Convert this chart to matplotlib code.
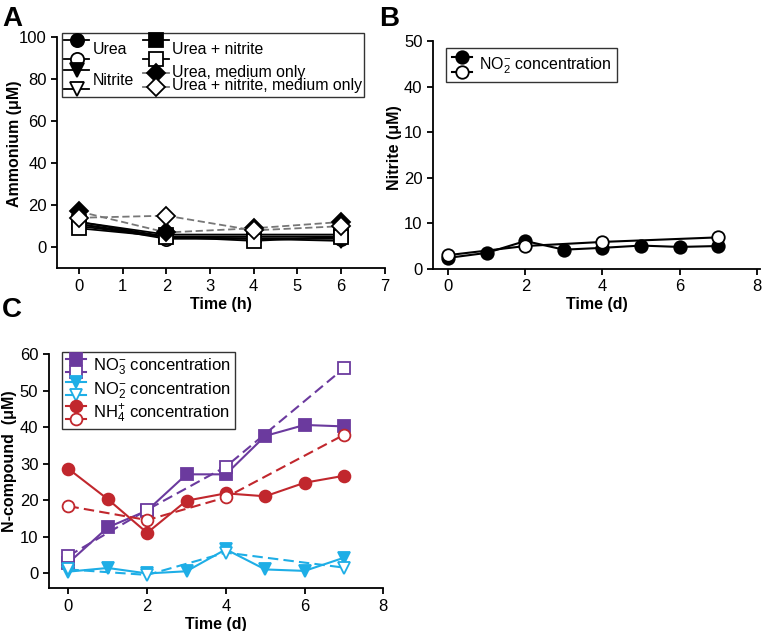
import numpy as np
import matplotlib
matplotlib.use("Agg")
import matplotlib.pyplot as plt
from matplotlib.lines import Line2D
from matplotlib.legend_handler import HandlerBase

plt.rcParams['font.family'] = ['Liberation Sans', 'DejaVu Sans']
plt.rcParams['mathtext.default'] = 'regular'

# ---- panel A data (time in h) ----
time_a = [0, 2, 4, 6]
urea_filled = [12, 5, 5, 5]
urea_open = [11, 4, 4, 4]
nitrite_filled = [11, 5, 4, 3]
nitrite_open = [10, 5, 5, 5]
ureanit_filled = [12, 6, 6, 6]
ureanit_open = [9, 5, 3, 5]
medium_filled = [17, 7, 9, 12]
medium_open = [14, 15, 8, 10]

# ---- panel B data (time in d) ----
time_b_filled = [0, 1, 2, 3, 4, 5, 6, 7]
nitrite_b_filled = [2.4, 3.5, 6.1, 4.2, 4.6, 5.1, 4.8, 5.0]
time_b_open = [0, 2, 4, 7]
nitrite_b_open = [3.0, 5.0, 5.9, 6.9]
b_yticks = [0, 10, 20, 30, 40, 50]
b_yticklabels = ['0', '10', '20', '10', '40', '50']

# ---- panel C data (time in d) ----
time_c_filled = [0, 1, 2, 3, 4, 5, 6, 7]
time_c_open = [0, 2, 4, 7]
no3_filled = [2.9, 12.6, 17.2, 27.1, 27.1, 37.6, 40.6, 40.2]
no3_open = [4.8, 17.4, 29.2, 56.1]
no2_filled = [0.5, 1.5, 0.0, 0.6, 6.6, 1.1, 0.7, 4.3]
no2_open = [1.1, -0.4, 5.7, 1.6]
nh4_filled = [28.6, 20.3, 11.1, 19.9, 21.9, 21.1, 24.8, 26.7]
nh4_open = [18.4, 14.6, 20.8, 37.9]

purple = '#6b3a9e'
cyan = '#1eaee6'
red = '#c1272d'


# legend handler: two line/marker samples stacked on top of each other
class StackedHandler(HandlerBase):
    def __init__(self, gap=0.52, **kwargs):
        HandlerBase.__init__(self, **kwargs)
        self.gap = gap

    def create_artists(self, legend, orig_handle, xdescent, ydescent,
                       width, height, fontsize, trans):
        artists = []
        yc = height / 2 - ydescent
        d = orig_handle[0].get_markersize() * self.gap
        for h, yy in zip(orig_handle, [yc + d, yc - d]):
            ln = Line2D([-xdescent, -xdescent + width], [yy, yy],
                        color=h.get_color(), lw=h.get_linewidth(),
                        linestyle='-')
            mk = Line2D([-xdescent + width / 2], [yy],
                        marker=h.get_marker(), markersize=h.get_markersize(),
                        markerfacecolor=h.get_markerfacecolor(),
                        markeredgecolor=h.get_markeredgecolor(),
                        markeredgewidth=h.get_markeredgewidth(),
                        linestyle='none')
            ln.set_transform(trans)
            mk.set_transform(trans)
            artists += [ln, mk]
        return artists


def style_axes(ax):
    ax.spines['top'].set_visible(False)
    ax.spines['right'].set_visible(False)
    ax.spines['left'].set_linewidth(1.3)
    ax.spines['bottom'].set_linewidth(1.3)
    ax.tick_params(direction='out', width=1.3, length=4, labelsize=12)


fig = plt.figure(figsize=(7.62, 6.31), dpi=100)

#-----------------------------------------
# panel A
axA = fig.add_axes([0.075, 0.575, 0.43, 0.366])
ms = 9.5
kw = dict(lw=1.3, color='black', mec='black', mew=1.3, ms=ms, zorder=3)
hU1, = axA.plot(time_a, urea_filled, marker='o', mfc='black', **kw)
hU2, = axA.plot(time_a, urea_open, marker='o', mfc='white', **kw)
hN1, = axA.plot(time_a, nitrite_filled, marker='v', mfc='black', **kw)
hN2, = axA.plot(time_a, nitrite_open, marker='v', mfc='white', **kw)
hUN1, = axA.plot(time_a, ureanit_filled, marker='s', mfc='black', **kw)
hUN2, = axA.plot(time_a, ureanit_open, marker='s', mfc='white', **kw)
kwd = dict(lw=1.3, color='#777777', linestyle=(0, (4, 2)), mec='black',
           mew=1.3, ms=ms, zorder=4)
hM1, = axA.plot(time_a, medium_filled, marker='D', mfc='black', **kwd)
hM2, = axA.plot(time_a, medium_open, marker='D', mfc='white', **kwd)
axA.set_xlim(-0.5, 7)
axA.set_ylim(-10, 100)
axA.set_xticks(range(0, 8))
axA.set_yticks(range(0, 101, 20))
axA.set_xlabel('Time (h)', fontsize=11.5, fontweight='bold')
axA.set_ylabel('Ammonium (μM)', fontsize=11.5, fontweight='bold')
axA.yaxis.set_label_coords(-0.107, 0.54)
axA.xaxis.set_label_coords(0.5, -0.125)
style_axes(axA)
legA = axA.legend([(hU1, hU2), (hN1, hN2), (hUN1, hUN2), (hM1, hM2)],
                  ['Urea', 'Nitrite', 'Urea + nitrite',
                   'Urea, medium only\nUrea + nitrite, medium only'],
                  handler_map={(hU1, hU2): StackedHandler(0.7),
                               (hN1, hN2): StackedHandler(0.7),
                               (hUN1, hUN2): StackedHandler(0.7),
                               (hM1, hM2): StackedHandler(0.5)},
                  ncol=2, loc='upper left', bbox_to_anchor=(0.015, 1.02),
                  fontsize=11.4, handlelength=1.6, handleheight=2.5,
                  handletextpad=0.2, columnspacing=0.6, labelspacing=0.05,
                  borderpad=0.12, frameon=True, fancybox=False,
                  borderaxespad=0)
legA.get_frame().set_edgecolor('black')
legA.get_frame().set_linewidth(1.0)
for t in legA.get_texts():
    t.set_linespacing(0.82)

#-----------------------------------------
# panel B
axB = fig.add_axes([0.568, 0.574, 0.43, 0.361])
kwb = dict(lw=1.5, color='black', mec='black', mew=1.3, ms=9, zorder=3)
hB1, = axB.plot(time_b_filled, nitrite_b_filled, marker='o', mfc='black', **kwb)
hB2, = axB.plot(time_b_open, nitrite_b_open, marker='o', mfc='white', **kwb)
axB.set_xlim(-0.4, 8.1)
axB.set_ylim(0, 50)
axB.set_xticks(range(0, 9, 2))
axB.set_yticks(b_yticks)
axB.set_yticklabels(b_yticklabels)
axB.set_xlabel('Time (d)', fontsize=11.5, fontweight='bold')
axB.set_ylabel('Nitrite (μM)', fontsize=11.5, fontweight='bold')
axB.yaxis.set_label_coords(-0.095, 0.53)
axB.xaxis.set_label_coords(0.5, -0.125)
style_axes(axB)
legB = axB.legend([(hB1, hB2)], ['NO$_2^{-}$ concentration'],
                  handler_map={(hB1, hB2): StackedHandler(0.6)},
                  loc='upper left', bbox_to_anchor=(0.04, 0.97),
                  fontsize=11.5, handlelength=1.3, handleheight=1.7,
                  handletextpad=0.4, borderpad=0.35, fancybox=False,
                  borderaxespad=0)
legB.get_frame().set_edgecolor('black')
legB.get_frame().set_linewidth(1.0)

#-----------------------------------------
# panel C
axC = fig.add_axes([0.064, 0.068, 0.439, 0.371])
kwc = dict(lw=1.5, mew=1.3, ms=8.5, zorder=3)
h3a, = axC.plot(time_c_filled, no3_filled, marker='s', color=purple,
                mec=purple, mfc=purple, **kwc)
h3b, = axC.plot(time_c_open, no3_open, marker='s', color=purple,
                mec=purple, mfc='white', linestyle=(0, (5, 2.5)), **kwc)
h2a, = axC.plot(time_c_filled, no2_filled, marker='v', color=cyan,
                mec=cyan, mfc=cyan, **kwc)
h2b, = axC.plot(time_c_open, no2_open, marker='v', color=cyan,
                mec=cyan, mfc='white', linestyle=(0, (5, 2.5)), **kwc)
h4a, = axC.plot(time_c_filled, nh4_filled, marker='o', color=red,
                mec=red, mfc=red, **kwc)
h4b, = axC.plot(time_c_open, nh4_open, marker='o', color=red,
                mec=red, mfc='white', linestyle=(0, (5, 2.5)), **kwc)
axC.set_xlim(-0.5, 8)
axC.set_ylim(-4, 60)
axC.set_xticks(range(0, 9, 2))
axC.set_yticks(range(0, 61, 10))
axC.set_xlabel('Time (d)', fontsize=11.5, fontweight='bold')
axC.set_ylabel('N-compound  (μM)', fontsize=11.5, fontweight='bold')
axC.yaxis.set_label_coords(-0.096, 0.54)
axC.xaxis.set_label_coords(0.5, -0.122)
style_axes(axC)
legC = axC.legend([(h3a, h3b), (h2a, h2b), (h4a, h4b)],
                  ['NO$_3^{-}$ concentration', 'NO$_2^{-}$ concentration',
                   'NH$_4^{+}$ concentration'],
                  handler_map={(h3a, h3b): StackedHandler(0.55),
                               (h2a, h2b): StackedHandler(0.55),
                               (h4a, h4b): StackedHandler(0.55)},
                  loc='upper left', bbox_to_anchor=(0.04, 1.01),
                  fontsize=12, handlelength=1.2, handleheight=1.4,
                  handletextpad=0.4, labelspacing=0.1, borderpad=0.25,
                  fancybox=False, borderaxespad=0)
legC.get_frame().set_edgecolor('black')
legC.get_frame().set_linewidth(1.0)

# panel letters
fig.text(0.003, 0.99, 'A', fontsize=20, fontweight='bold', va='top')
fig.text(0.497, 0.99, 'B', fontsize=20, fontweight='bold', va='top')
fig.text(0.003, 0.53, 'C', fontsize=20, fontweight='bold', va='top')

fig.savefig('out.png', dpi=100)
